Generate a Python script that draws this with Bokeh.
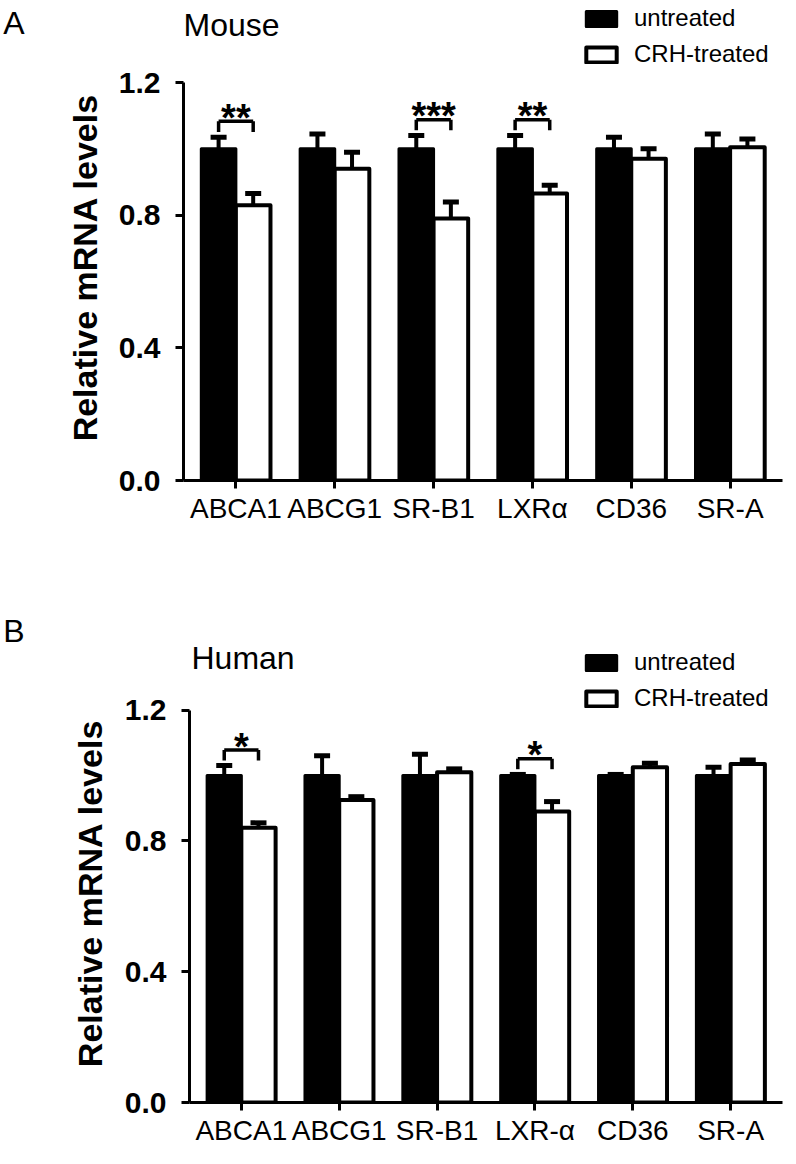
from bokeh.plotting import figure
from bokeh.models import (ColumnDataSource, FactorRange, Range1d, FixedTicker, Whisker,
                          TeeHead, Legend, LegendItem, Label, NumeralTickFormatter,
                          LinearAxis)
from bokeh.transform import dodge
from bokeh.layouts import column, row
from bokeh.embed import file_html
from bokeh.resources import INLINE
from bokeh.core.properties import value

# ---------------- data ----------------
genes_mouse = ["ABCA1", "ABCG1", "SR-B1", "LXRα", "CD36", "SR-A"]
mouse_untreated = [1.0, 1.0, 1.0, 1.0, 1.0, 1.0]
mouse_untreated_sem = [0.035, 0.045, 0.04, 0.04, 0.035, 0.045]
mouse_treated = [0.83, 0.94, 0.79, 0.865, 0.97, 1.005]
mouse_treated_sem = [0.035, 0.05, 0.05, 0.025, 0.03, 0.025]
mouse_sig = ["**", "", "***", "**", "", ""]

genes_human = ["ABCA1", "ABCG1", "SR-B1", "LXR-α", "CD36", "SR-A"]
human_untreated = [1.0, 1.0, 1.0, 1.0, 1.0, 1.0]
human_untreated_sem = [0.03, 0.06, 0.065, 0.003, 0.003, 0.025]
human_treated = [0.84, 0.925, 1.01, 0.89, 1.025, 1.035]
human_treated_sem = [0.015, 0.01, 0.01, 0.03, 0.012, 0.012]
human_sig = ["*", "", "", "*", "", ""]

y_ticks = [0.0, 0.4, 0.8, 1.2]
y_title = "Relative mRNA levels"
legend_labels = ["untreated", "CRH-treated"]

FONT = "Liberation Sans"
BW = 0.35
OFF = 0.175
W = 786


def text_axis(px_pos, text, size, style, standoff, orientation="horizontal"):
    """An extra left axis (pixel range) carrying one tick label as a text."""
    return LinearAxis(y_range_name="px",
                      ticker=FixedTicker(ticks=[px_pos], minor_ticks=[]),
                      major_label_overrides={px_pos: text},
                      major_label_orientation=orientation,
                      axis_line_color=None, major_tick_line_color=None,
                      minor_tick_line_color=None, major_tick_out=0, major_tick_in=0,
                      major_label_standoff=standoff, major_label_text_font=FONT,
                      major_label_text_font_size=size,
                      major_label_text_font_style=style,
                      major_label_text_color="black")


def panel(genes, u, ue, t, te, sig, letter, title, height, bottom, left, axis_top_px,
          letter_px, letter_standoff, ytitle_px, title_px, legend_px):
    frame_h = height - bottom
    ppu = (frame_h - axis_top_px) / 1.2
    p = figure(width=W, height=height,
               x_range=FactorRange(*genes, range_padding=0.01),
               y_range=Range1d(0, frame_h / ppu),
               output_backend="svg", toolbar_location=None,
               min_border_left=left, min_border_right=4,
               min_border_top=0, min_border_bottom=bottom)
    p.outline_line_color = None
    p.grid.visible = False

    src = ColumnDataSource(dict(
        gene=genes, u=u, t=t,
        u_hi=[a + b for a, b in zip(u, ue)],
        t_hi=[a + b for a, b in zip(t, te)],
    ))
    r_u = p.vbar(x=dodge("gene", -OFF, range=p.x_range), top="u", width=BW,
                 source=src, fill_color="black", line_color="black",
                 line_width=3, line_join="round")
    r_t = p.vbar(x=dodge("gene", OFF, range=p.x_range), top="t", width=BW,
                 source=src, fill_color="white", line_color="black",
                 line_width=4, line_join="round")

    for off, lo, hi in [(-OFF, "u", "u_hi"), (OFF, "t", "t_hi")]:
        w = Whisker(base=dodge("gene", off, range=p.x_range), lower=lo, upper=hi,
                    source=src, dimension="height", line_width=4, line_color="black",
                    lower_head=None,
                    upper_head=TeeHead(size=16, line_width=5, line_color="black"),
                    level="glyph")
        p.add_layout(w)

    # significance brackets
    bg, by, blo, sy, st = [], [], [], [], []
    for g, a, b, c, d, s in zip(genes, u, ue, t, te, sig):
        if s:
            hgt = max(a + b, c + d) + 0.048
            bg.append(g); by.append(hgt); blo.append(hgt - 0.032)
            sy.append(hgt + 0.01); st.append(s)
    bsrc = ColumnDataSource(dict(gene=bg, by=by, blo=blo, sy=sy, st=st))
    p.segment(x0=dodge("gene", -OFF, range=p.x_range), x1=dodge("gene", OFF, range=p.x_range),
              y0="by", y1="by", source=bsrc, line_color="black", line_width=3.5)
    for off in (-OFF, OFF):
        p.segment(x0=dodge("gene", off, range=p.x_range), x1=dodge("gene", off, range=p.x_range),
                  y0="by", y1="blo", source=bsrc, line_color="black", line_width=3.5)
    p.text(x="gene", y="sy", text="st", source=bsrc, text_font=value(FONT),
           text_font_size="38px", text_font_style="bold", text_align="center",
           text_baseline="alphabetic", text_color="black")

    # main axes
    yax = p.yaxis[0]
    xax = p.xaxis[0]
    yax.bounds = (0, 1.2)
    yax.ticker = FixedTicker(ticks=y_ticks, minor_ticks=[])
    yax.formatter = NumeralTickFormatter(format="0.0")
    for ax in (xax, yax):
        ax.axis_line_width = 3
        ax.axis_line_color = "black"
        ax.major_tick_line_width = 3
        ax.major_tick_line_color = "black"
        ax.major_tick_in = 0
        ax.minor_tick_line_color = None
        ax.major_label_text_color = "black"
        ax.major_label_text_font = FONT
    yax.major_tick_out = 8
    yax.major_label_standoff = 15
    yax.major_label_text_font_size = "30px"
    yax.major_label_text_font_style = "bold"
    xax.major_tick_out = 8
    xax.major_label_standoff = 4
    xax.major_label_text_font_size = "28px"

    # y title and panel letter as tick labels of extra outer axes (pixel range)
    p.extra_y_ranges = {"px": Range1d(0, frame_h)}
    p.add_layout(text_axis(ytitle_px, y_title, "34px", "bold", 12, "vertical"), "left")
    p.add_layout(text_axis(letter_px, letter, "32px", "normal", letter_standoff), "left")

    # legend
    leg = Legend(items=[LegendItem(label=legend_labels[0], renderers=[r_u]),
                        LegendItem(label=legend_labels[1], renderers=[r_t])],
                 location=legend_px, orientation="vertical",
                 glyph_width=38, glyph_height=19, label_standoff=14,
                 label_text_font=FONT, label_text_font_size="24px",
                 label_text_color="black", label_height=27, spacing=8,
                 padding=0, margin=0, border_line_color=None,
                 background_fill_alpha=0)
    p.add_layout(leg)

    p.add_layout(Label(x=title_px[0], y=title_px[1], x_units="screen", y_units="screen",
                       text=title, text_font=FONT, text_font_size="32px",
                       text_baseline="alphabetic", text_color="black"))
    return p


# top: canvas page 8..590, frame x 184..790, y 8..488, 1.2 tick at page 90
p1 = panel(genes_mouse, mouse_untreated, mouse_untreated_sem, mouse_treated,
           mouse_treated_sem, mouse_sig, "A", "Mouse",
           height=582, bottom=102, left=176, axis_top_px=82,
           letter_px=466, letter_standoff=38, ytitle_px=213,
           title_px=(0, 456), legend_px=(399, 412))

# bottom: canvas page 590..1156, frame x 190..790, y 590..1112, 1.2 tick at page 718
p2 = panel(genes_human, human_untreated, human_untreated_sem, human_treated,
           human_treated_sem, human_sig, "B", "Human",
           height=566, bottom=44, left=182, axis_top_px=128,
           letter_px=473, letter_standoff=44, ytitle_px=210,
           title_px=(2, 445), legend_px=(393, 390))

layout = column(row(p1), row(p2))
open("out.html", "w").write(file_html(layout, INLINE))
